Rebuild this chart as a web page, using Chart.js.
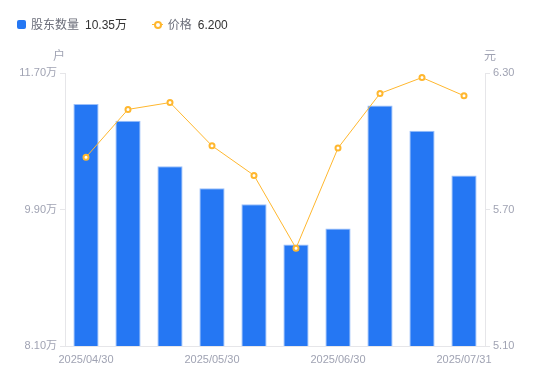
<!DOCTYPE html>
<html>
<head>
<meta charset="utf-8">
<script src="https://cdn.jsdelivr.net/npm/chart.js@4"></script>
<style>
  html, body { margin: 0; padding: 0; background: #fff; }
  #wrap { position: relative; width: 550px; height: 381px; font-family: "Liberation Sans", "Noto Sans CJK SC", sans-serif; }
  #legend { position: absolute; left: 17px; top: 15px; font-size: 12px; line-height: 18px; white-space: nowrap; }
  #legend span { display: inline-block; vertical-align: middle; }
  .sq { width: 9px; height: 9px; background: #2577f3; border-radius: 2px; margin-right: 5px; }
  .lbl { color: #6b6e7a; }
  .val { color: #333; margin-left: 6px; }
  .mk { position: relative; width: 11px; height: 9px; margin-right: 5px; }
  .mk:before { content: ""; position: absolute; left: 0; right: 0; top: 4px; height: 1px; background: #ffb72e; }
  .mk:after { content: ""; position: absolute; left: 2px; top: 1px; width: 4px; height: 4px; border: 2px solid #ffb72e; border-radius: 50%; background: #fff; }
</style>
</head>
<body>
<div id="wrap">
  <canvas id="myChart" width="550" height="381"></canvas>
  <div id="legend">
    <span class="sq"></span><span class="lbl">股东数量</span><span class="val">10.35万</span>
    <span style="width:18px"></span>
    <span class="mk"></span><span class="lbl">价格</span><span class="val">6.200</span>
  </div>
</div>
<script>
const dates = ["2025/04/30", "2025/05/09", "2025/05/20", "2025/05/30", "2025/06/10", "2025/06/20", "2025/06/30", "2025/07/10", "2025/07/20", "2025/07/31"];
const holders = [11.29, 11.07, 10.47, 10.18, 9.97, 9.44, 9.65, 11.27, 10.94, 10.35];
const prices = [5.93, 6.14, 6.17, 5.98, 5.85, 5.53, 5.97, 6.21, 6.28, 6.20];
const leftTicks = [8.10, 9.90, 11.70];
const rightTicks = [5.10, 5.70, 6.30];
const shownLabels = [0, 3, 6, 9];

const tickColor = "#a0a3b3";
const lineColor = "#e6e6e9";
const font = { family: "'Liberation Sans', 'Noto Sans CJK SC', sans-serif", size: 11 };

// axis unit titles above the two y axes
const unitTitles = {
    id: "unitTitles",
    afterDraw(chart) {
        const c = chart.ctx;
        const a = chart.chartArea;
        c.save();
        c.fillStyle = tickColor;
        c.font = "12px 'Liberation Sans', 'Noto Sans CJK SC', sans-serif";
        c.textAlign = "center";
        c.textBaseline = "middle";
        c.fillText("户", a.left - 6, a.top - 16);
        c.fillText("元", a.right + 5, a.top - 16);
        c.restore();
    },
};

const ctx = document.getElementById("myChart");

const chart = new Chart(ctx, {
    data: {
        labels: dates,
        datasets: [
            {
                type: "line",
                label: "价格",
                data: prices,
                yAxisID: "yR",
                borderColor: "#ffb72e",
                borderWidth: 1,
                pointRadius: 2.5,
                pointBorderWidth: 2,
                pointBackgroundColor: "#fff",
                pointBorderColor: "#ffb72e",
                tension: 0,
                order: 0,
            },
            {
                type: "bar",
                label: "股东数量",
                data: holders,
                yAxisID: "yL",
                backgroundColor: "#2577f3",
                borderColor: "#9cc0fa",
                borderWidth: { top: 1, left: 1, right: 1, bottom: 0 },
                borderSkipped: "bottom",
                categoryPercentage: 1,
                barPercentage: 0.6,
                order: 1,
            },
        ],
    },
    options: {
        responsive: false,
        animation: false,
        layout: { padding: { top: 73, left: 0, right: 0, bottom: 0 } },
        plugins: {
            legend: { display: false },
            tooltip: { enabled: false },
        },
        scales: {
            x: {
                grid: { display: false, tickLength: 4 },
                border: { color: lineColor },
                ticks: {
                    autoSkip: false,
                    maxRotation: 0,
                    color: tickColor,
                    font: font,
                    padding: 3,
                    callback: (v, i) => (shownLabels.includes(i) ? dates[i] : ""),
                },
                afterFit(s) { s.height = 35; },
            },
            yL: {
                position: "left",
                min: 8.1,
                max: 11.7,
                afterBuildTicks(s) { s.ticks = leftTicks.map(v => ({ value: v })); },
                grid: { drawOnChartArea: false, tickLength: 5, color: lineColor },
                border: { color: lineColor },
                ticks: { color: tickColor, font: font, padding: 3, callback: v => v.toFixed(2) + "万" },
                afterFit(s) { s.width = 65; },
            },
            yR: {
                position: "right",
                min: 5.1,
                max: 6.3,
                afterBuildTicks(s) { s.ticks = rightTicks.map(v => ({ value: v })); },
                grid: { drawOnChartArea: false, tickLength: 5, color: lineColor },
                border: { color: lineColor },
                ticks: { color: tickColor, font: font, padding: 3, callback: v => v.toFixed(2) },
                afterFit(s) { s.width = 65; },
            },
        },
    },
    plugins: [unitTitles],
});
</script>
</body>
</html>
